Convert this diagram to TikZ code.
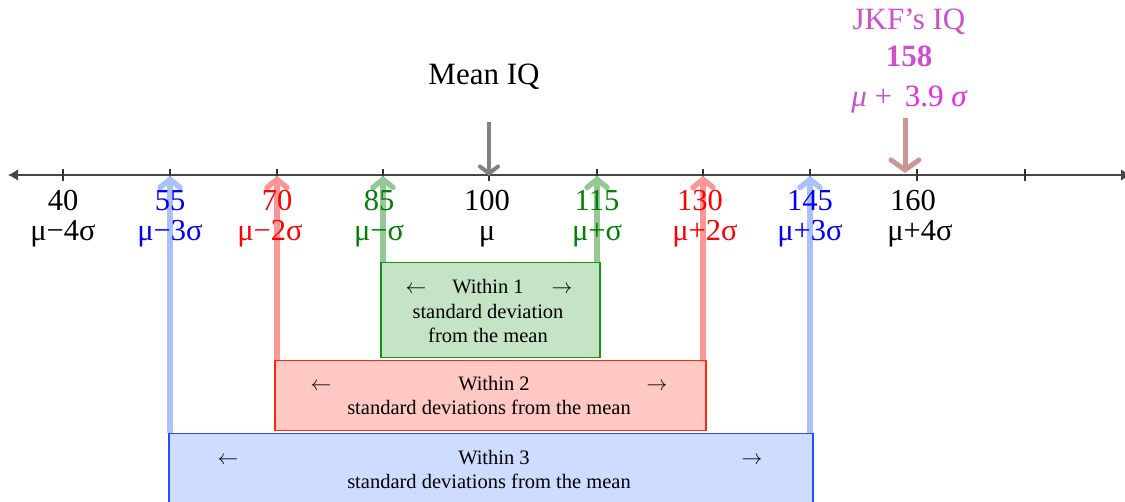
\documentclass[tikz,border=0pt]{standalone}
\usepackage{fontspec}
\setmainfont{Liberation Serif}
\usetikzlibrary{arrows.meta}
\definecolor{axisgray}{RGB}{70,70,70}
\definecolor{meangray}{RGB}{128,128,128}
\definecolor{jkfarrow}{RGB}{205,150,150}
\definecolor{orch}{RGB}{204,80,204}
\definecolor{mag}{RGB}{235,40,235}
\definecolor{tblue}{RGB}{0,0,255}
\definecolor{tred}{RGB}{255,0,0}
\definecolor{tgreen}{RGB}{0,128,0}
\definecolor{lblue}{RGB}{170,192,255}
\definecolor{lred}{RGB}{255,150,150}
\definecolor{lgreen}{RGB}{150,200,150}
\definecolor{fgreen}{RGB}{197,228,197}
\definecolor{bgreen}{RGB}{20,150,20}
\definecolor{fred}{RGB}{255,200,195}
\definecolor{bred}{RGB}{255,40,10}
\definecolor{fblue}{RGB}{205,220,255}
\definecolor{bblue}{RGB}{30,80,255}
\begin{document}
\begin{tikzpicture}[x=1pt,y=-1pt,
  axisline/.style={draw=axisgray,line width=2.6pt},
  tickmark/.style={draw=black!80,line width=1.2pt},
  num/.style={font=\fontsize{30.5}{36}\selectfont,anchor=base,inner sep=0pt},
  boxtxt/.style={font=\fontsize{20.5}{25}\selectfont,anchor=base,inner sep=0pt},
  arrtxt/.style={font=\fontsize{20}{25}\selectfont,anchor=base,inner sep=0pt},
  bigtxt/.style={font=\fontsize{31}{38}\selectfont,anchor=base,inner sep=0pt},
  uparrow/.style={line width=5.5pt,-{Straight Barb[length=8pt,width=20pt,line cap=round]}},
  rangebox/.style={anchor=north west,line width=1.5pt,inner sep=0pt},
]
\useasboundingbox (0,0) rectangle (1125,502);

% axis
\coordinate (axl) at (8,175);
\coordinate (axr) at (1131,175);
\draw[axisline,{Latex[length=10pt,width=12pt]}-{Latex[length=10pt,width=12pt]}] (axl) -- (axr);
\foreach \v/\x in {40/63,55/170,70/277,85/383,100/489,115/597,130/703,145/810,160/917,175/1025}{
  \coordinate (t\v) at (\x,176);
  \draw[tickmark] (\x,169) -- (\x,181);
}

% boxes
\node[rangebox,draw=bblue,fill=fblue,minimum width=644pt,minimum height=80pt] (b3) at (168,433) {};
\node[rangebox,draw=bred,fill=fred,minimum width=431pt,minimum height=70pt] (b2) at (274,360) {};
\node[rangebox,draw=bgreen,fill=fgreen,minimum width=219pt,minimum height=95pt] (b1) at (380,262) {};

% vertical arrows
\draw[uparrow,draw=lblue] (b3.north west -| t55) -- (t55);
\draw[uparrow,draw=lblue] (b3.north east -| t145) -- (t145);
\draw[uparrow,draw=lred] (b2.north west -| t70) -- (t70);
\draw[uparrow,draw=lred] (b2.north east -| t130) -- (t130);
\draw[uparrow,draw=lgreen] (b1.north west -| t85) -- (t85);
\draw[uparrow,draw=lgreen] (b1.north east -| t115) -- (t115);

% labels
\node[num] (n40) at (63,211) {40};
\node[num] (s40) at (63,241) {μ−4σ};
\node[num,text=tblue] (n55) at (170,211) {55};
\node[num,text=tblue] (s55) at (170,241) {μ−3σ};
\node[num,text=tred] (n70) at (277,211) {70};
\node[num,text=tred] (s70) at (270,241) {μ−2σ};
\node[num,text=tgreen] (n85) at (379,211) {85};
\node[num,text=tgreen] (s85) at (379,241) {μ−σ};
\node[num] (n100) at (487,211) {100};
\node[num] (s100) at (487,241) {μ};
\node[num,text=tgreen] (n115) at (597,211) {115};
\node[num,text=tgreen] (s115) at (597,241) {μ+σ};
\node[num,text=tred] (n130) at (700,211) {130};
\node[num,text=tred] (s130) at (705,241) {μ+2σ};
\node[num,text=tblue] (n145) at (810,211) {145};
\node[num,text=tblue] (s145) at (810,241) {μ+3σ};
\node[num] (n160) at (913,211) {160};
\node[num] (s160) at (920,241) {μ+4σ};

% mean arrow
\node[bigtxt] (mean) at (484,85) {Mean IQ};
\coordinate (meantop) at (489,122);
\draw[draw=meangray,line width=4pt,-{Straight Barb[length=7pt,width=18pt,line cap=round]}] (meantop) -- (t100);

% JKF
\node[bigtxt,text=orch] (jkf) at (909,30) {JKF’s IQ};
\node[bigtxt,text=orch,font=\fontsize{31}{38}\selectfont\bfseries] (iq) at (909,67) {158};
\node[bigtxt] (jsig) at (909,107) {\textcolor{orch}{\itshape μ} \textcolor{orch}{+}\, \textcolor{mag}{3.9 \itshape σ}};
\coordinate (jtop) at (905,118);
\coordinate (jtip) at (905,173);
\draw[draw=jkfarrow,line width=5pt,-{Straight Barb[length=10pt,width=28pt,line cap=round]}] (jtop) -- (jtip);

% box texts
\node[boxtxt] (g1a) at (488,294) {Within 1};
\node[arrtxt] (g1l) at (416,294) {$\leftarrow$};
\node[arrtxt] (g1r) at (562,294) {$\rightarrow$};
\node[boxtxt] (g1b) at (488,319) {standard deviation};
\node[boxtxt] (g1c) at (488,343) {from the mean};

\node[boxtxt] (r2a) at (494,391) {Within 2};
\node[arrtxt] (r2l) at (321,391) {$\leftarrow$};
\node[arrtxt] (r2r) at (657,391) {$\rightarrow$};
\node[boxtxt] (r2b) at (489,415) {standard deviations from the mean};

\node[boxtxt] (b3a) at (494,465) {Within 3};
\node[arrtxt] (b3l) at (228,465) {$\leftarrow$};
\node[arrtxt] (b3r) at (752,465) {$\rightarrow$};
\node[boxtxt] (b3b) at (489,489) {standard deviations from the mean};
\end{tikzpicture}
\end{document}
